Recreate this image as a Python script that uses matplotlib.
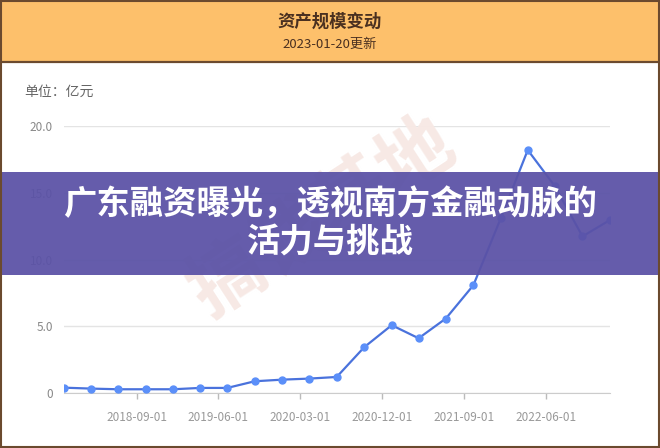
import numpy as np
import matplotlib
matplotlib.use('Agg')
from matplotlib import pyplot as plt
import matplotlib.dates as mdates
from matplotlib.patches import Rectangle
from datetime import date

plt.rcParams['font.family'] = ['Noto Sans CJK SC', 'DejaVu Sans']

# données : trimestrielles, 2018-01 -> 2023-01 (en milliards de yuans, 亿元)
dates = [date(2018 + (m // 12), m % 12 + 1, 1) for m in range(0, 61, 3)]
valeurs = [0.40, 0.33, 0.28, 0.28, 0.28, 0.38, 0.38, 0.88, 1.00, 1.08, 1.20,
           3.43, 5.08, 4.10, 5.58, 8.07, 13.1, 18.2, 15.48, 11.73, 12.96]
ticks_x = ['2018-09-01', '2019-06-01', '2020-03-01', '2020-12-01', '2021-09-01', '2022-06-01']
ticks_y = [0, 5, 10, 15, 20]
labels_y = ['0', '5.0', '10.0', '15.0', '20.0']

titre = '资产规模变动'
sous_titre = '2023-01-20更新'
unite = '单位：亿元'
bandeau = '广东融资曝光，透视南方金融动脉的\n活力与挑战'

W, H = 660, 448
fig = plt.figure(figsize=(W / 100, H / 100), dpi=100)
fig.patch.set_facecolor('white')

def fx(px):
    return px / W

def fy(py):
    return 1 - py / H

# en-tête orange
fig.patches.append(Rectangle((0, fy(62)), 1, 62 / H, transform=fig.transFigure,
                             facecolor='#fdc06b', edgecolor='none', zorder=0))
fig.add_artist(plt.Line2D([0, 1], [fy(62), fy(62)], transform=fig.transFigure,
                          color='#6b4a2e', lw=1.6))
fig.text(0.5, fy(22), titre, ha='center', va='center', fontsize=12.5,
         fontweight='bold', color='#4a3020')
fig.text(0.5, fy(44.5), sous_titre, ha='center', va='center', fontsize=9.5,
         color='#4a3020')
fig.text(fx(24), fy(92), unite, ha='left', va='center', fontsize=10, color='#666666')

# filigrane
fig.text(fx(322), fy(218), '搞钱基地', ha='center', va='center', fontsize=54,
         rotation=33, color='#f7e9e5', fontweight='bold', zorder=0)

ax = fig.add_axes([fx(64), fy(393), fx(610 - 64), (393 - 126) / H])
ax.patch.set_alpha(0)
x = mdates.date2num(dates)
ax.plot(x, valeurs, color='#4a72dc', lw=1.6, zorder=3)
ax.plot(x, valeurs, 'o', color='#5b8ff9', markersize=5, zorder=4)
ax.set_xlim(x[0], x[-1])
ax.set_ylim(0, 20)

tx = [mdates.date2num(date(*map(int, t.split('-')))) for t in ticks_x]
ax.set_xticks(tx)
ax.set_xticklabels(ticks_x)
ax.set_yticks(ticks_y)
ax.set_yticklabels(labels_y)
ax.tick_params(axis='x', colors='#bbbbbb', labelcolor='#999999', labelsize=8.5,
               length=4, width=1, pad=9)
ax.tick_params(axis='y', length=0, labelcolor='#888888', labelsize=8.5, pad=8)
ax.grid(axis='y', color='#e4e4e4', lw=1)
for s in ['top', 'right', 'left']:
    ax.spines[s].set_visible(False)
ax.spines['bottom'].set_color('#cccccc')
ax.set_axisbelow(True)

# bandeau violet
fig.patches.append(Rectangle((0, fy(275)), 1, (275 - 172) / H, transform=fig.transFigure,
                             facecolor='#5b52a6', edgecolor='none', alpha=0.94, zorder=10))
fig.text(0.5, fy(224), bandeau, ha='center', va='center', fontsize=24,
         fontweight='heavy', color='white', linespacing=1.2, zorder=11)

# cadre
fig.patches.append(Rectangle((0.0015, 0.002), 0.997, 0.996, transform=fig.transFigure,
                             facecolor='none', edgecolor='#6b4a2e', lw=1.5, zorder=12))

plt.savefig('out.png', dpi=100)
